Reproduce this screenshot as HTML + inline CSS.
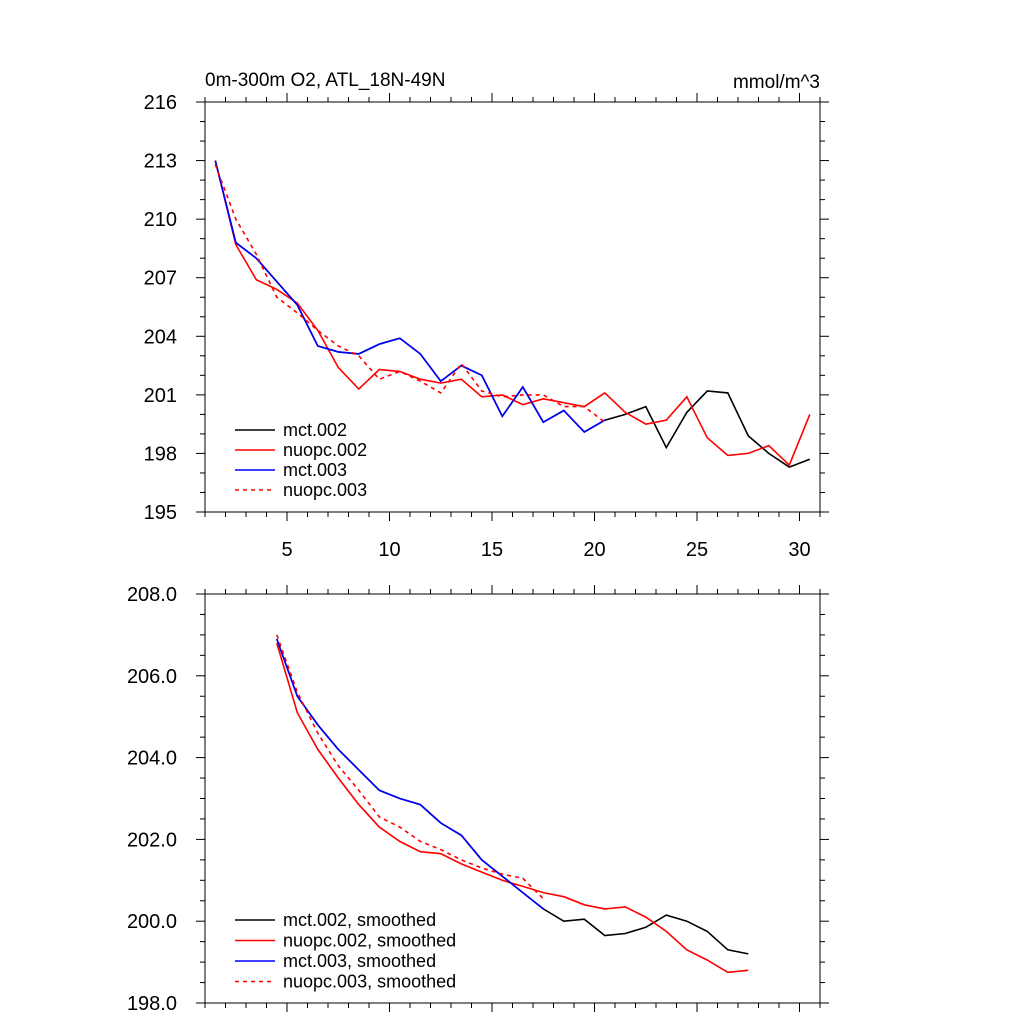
<!DOCTYPE html>
<html><head><meta charset="utf-8"><style>body{margin:0;background:#fff}svg{display:block}text{font-family:"Liberation Sans",sans-serif;fill:#000}</style></head>
<body>
<svg id="c" width="1024" height="1024"></svg>
<script>
const xs=[];for(let i=0;i<30;i++)xs.push(1.5+i);
const top_mct002=[213.0,208.8,208.0,206.8,205.6,203.5,203.2,203.1,203.6,203.9,203.1,201.7,202.5,202.0,199.9,201.4,199.6,200.2,199.1,199.7,200.0,200.4,198.3,200.1,201.2,201.1,198.9,198.0,197.3,197.7];
const top_nuopc002=[213.0,208.7,206.9,206.4,205.7,204.3,202.4,201.3,202.3,202.2,201.8,201.6,201.8,200.9,201.0,200.5,200.8,200.6,200.4,201.1,200.1,199.5,199.7,200.9,198.8,197.9,198.0,198.4,197.4,200.0];
const top_mct003=[213.0,208.8,208.0,206.8,205.6,203.5,203.2,203.1,203.6,203.9,203.1,201.7,202.5,202.0,199.9,201.4,199.6,200.2,199.1,199.7];
const top_nuopc003=[212.8,210.0,208.2,206.0,205.2,204.3,203.5,203.0,201.8,202.2,201.7,201.1,202.6,201.2,200.9,201.0,201.0,200.4,200.4,199.6];
const bot_mct002=[206.9,205.5,204.8,204.2,203.7,203.2,203.0,202.85,202.4,202.1,201.5,201.1,200.7,200.3,200.0,200.05,199.65,199.7,199.85,200.15,200.0,199.75,199.3,199.2];
const bot_nuopc002=[206.8,205.1,204.2,203.5,202.85,202.3,201.95,201.7,201.65,201.4,201.2,201.0,200.85,200.7,200.6,200.4,200.3,200.35,200.1,199.75,199.3,199.05,198.75,198.8];
const bot_mct003=[206.9,205.5,204.8,204.2,203.7,203.2,203.0,202.85,202.4,202.1,201.5,201.1,200.7,200.3];
const bot_nuopc003=[207.0,205.6,204.6,203.8,203.2,202.55,202.3,201.95,201.75,201.5,201.3,201.15,201.05,200.55];
const botStart=4.5;
const topYTicks=[195,198,201,204,207,210,213,216];
const botYTicks=[198,200,202,204,206,208];
const xTicks=[5,10,15,20,25,30];

const S=document.getElementById('c'),NS='http://www.w3.org/2000/svg';
function el(t,a,p){const e=document.createElementNS(NS,t);for(const k in a)e.setAttribute(k,a[k]);(p||S).appendChild(e);return e;}
const X0=205,X1=820;
const sx=v=>X0+(v-1)/30*(X1-X0);
function panel(name,Y0,Y1,ymin,ymax,yt,ymin_step,fmt,showX){
 const g=el('g',{});
 
 
 const sy=v=>Y1-(v-ymin)/(ymax-ymin)*(Y1-Y0);
 el('rect',{x:X0,y:Y0,width:X1-X0,height:Y1-Y0,fill:'none',stroke:'#000','stroke-width':1},g);
 for(let v=1;v<=31;v++){const x=sx(v);const maj=v%5==0;const L=maj?9:5;
  el('line',{x1:x,x2:x,y1:Y0,y2:Y0-L,stroke:'#000'},g);el('line',{x1:x,x2:x,y1:Y1,y2:Y1+L,stroke:'#000'},g);}
 for(let v=ymin;v<=ymax+1e-9;v+=ymin_step){const y=sy(v);const maj=yt.some(t=>Math.abs(t-v)<1e-6);const L=maj?9:5;
  el('line',{x1:X0,x2:X0-L,y1:y,y2:y,stroke:'#000'},g);el('line',{x1:X1,x2:X1+L,y1:y,y2:y,stroke:'#000'},g);}
 yt.forEach(t=>{const tx=el('text',{x:X0-28,y:sy(t)+7,'text-anchor':'end','font-size':20},g);tx.textContent=fmt(t);
  });
 if(showX)xTicks.forEach(t=>{const tx=el('text',{x:sx(t),y:Y1+44,'text-anchor':'middle','font-size':20},g);tx.textContent=t;
  });
 return sy;
}
function series(name,arr,start,sy,color,dash){
 const pts=arr.map((v,i)=>sx(start+i).toFixed(1)+','+sy(v).toFixed(1)).join(' ');
 const p=el('polyline',{points:pts,fill:'none',stroke:color,'stroke-width':1.6,'stroke-dasharray':dash?'4,4':'none'});
 
}
function legend(items,x,y0,dy){
 items.forEach((it,i)=>{const y=y0+i*dy;
  const l=el('line',{x1:x,x2:x+40,y1:y,y2:y,stroke:it[1],'stroke-width':1.5,'stroke-dasharray':it[2]?'4,4':'none'});
  
  const t=el('text',{x:x+48,y:y+6,'font-size':18});t.textContent=it[0];
  });
}
const sy1=panel('top-panel',102,512,195,216,topYTicks,1,v=>String(v),true);
series('mct002-line',top_mct002,1.5,sy1,'#000');
series('nuopc002-line',top_nuopc002,1.5,sy1,'#f00');
series('mct003-line',top_mct003,1.5,sy1,'#00f');
series('nuopc003-line',top_nuopc003,1.5,sy1,'#f00',true);
legend([['mct.002','#000'],['nuopc.002','#f00'],['mct.003','#00f'],['nuopc.003','#f00',1]],235,430,20);
let t=el('text',{x:205,y:86,'font-size':19});t.textContent='0m-300m O2, ATL_18N-49N';

t=el('text',{x:820,y:88,'font-size':19,'text-anchor':'end'});t.textContent='mmol/m^3';

const sy2=panel('bottom-panel',594,1003,198,208,botYTicks,0.5,v=>v.toFixed(1),false);
series('mct002-smoothed-line',bot_mct002,botStart,sy2,'#000');
series('nuopc002-smoothed-line',bot_nuopc002,botStart,sy2,'#f00');
series('mct003-smoothed-line',bot_mct003,botStart,sy2,'#00f');
series('nuopc003-smoothed-line',bot_nuopc003,botStart,sy2,'#f00',true);
legend([['mct.002, smoothed','#000'],['nuopc.002, smoothed','#f00'],['mct.003, smoothed','#00f'],['nuopc.003, smoothed','#f00',1]],235,920,20.5);
</script>
</body></html>
